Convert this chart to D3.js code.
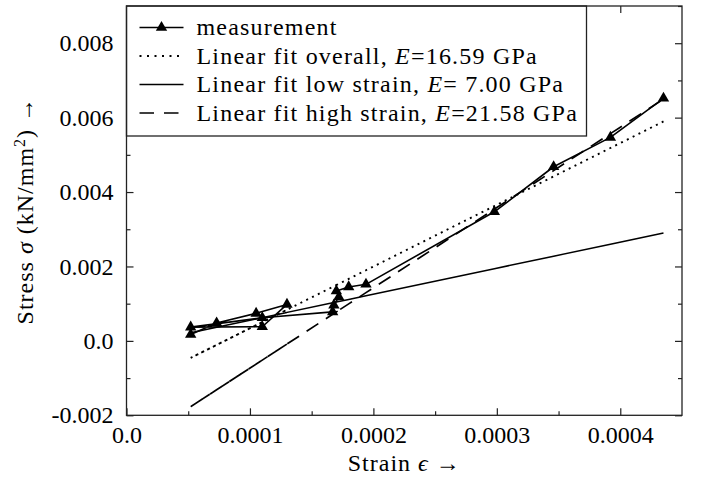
<!DOCTYPE html>
<html>
<head>
    <meta charset="utf-8">
    <title>Stress strain</title>
    <script src="https://d3js.org/d3.v7.min.js"></script>
    <style>
        body { margin: 0; background: #fff; }
        text { font-family: "Liberation Serif", "DejaVu Serif", serif; fill: #000; }
    </style>
</head>
<body>
    <div id="chart"></div>
    <script>
        // measurement, in the order it was recorded
        var strain = [0.000052, 0.000073, 0.000105, 0.00013, 0.00011, 0.000052, 0.00011, 0.000167, 0.000168,
                      0.000172, 0.00017, 0.00018, 0.000194, 0.000298, 0.000346, 0.000392, 0.000435];
        var stress = [0.00017, 0.00048, 0.00074, 0.00098, 0.00038, 0.00037, 0.00062, 0.00078, 0.00096,
                      0.00118, 0.00134, 0.00145, 0.00152, 0.00347, 0.00468, 0.00547, 0.00652];

        // linear fits: overall, low strain, high strain (E in GPa = kN/mm2)
        var fitNames = ["Linear fit overall, ", "Linear fit low strain, ", "Linear fit high strain, "];
        var fitE = [16.59, 7.00, 21.58];
        var fitIntercept = [-0.00132, -0.000145, -0.00289];

        var xTicks = [0, 0.0001, 0.0002, 0.0003, 0.0004];
        var xTickLabels = ["0.0", "0.0001", "0.0002", "0.0003", "0.0004"];
        var xMinor = [0.00005, 0.00015, 0.00025, 0.00035];
        var yTicks = [-0.002, 0, 0.002, 0.004, 0.006, 0.008];
        var yTickLabels = ["-0.002", "0.0", "0.002", "0.004", "0.006", "0.008"];
        var yMinor = [-0.001, 0.001, 0.003, 0.005, 0.007, 0.009];

        var W = 701, H = 478;
        var margin = {top: 6, right: 19, bottom: 62.7, left: 126.5},
            width = W - margin.left - margin.right,
            height = H - margin.top - margin.bottom;

        var svg = d3.select("#chart")
          .append("svg")
            .attr("width", W)
            .attr("height", H)
          .append("g")
            .attr("transform", "translate(" + margin.left + "," + margin.top + ")");

        var x = d3.scaleLinear().domain([0, 0.00045]).range([0, width]);
        var y = d3.scaleLinear().domain([-0.002, 0.009]).range([height, 0]);

        var line = d3.line()
            .x(function(d) { return x(d[0]); })
            .y(function(d) { return y(d[1]); });

        var meas = strain.map(function(s, i) { return [s, stress[i]]; });

        var fitStyles = [
            {dash: "2,4.5", w: 1.9},
            {dash: null, w: 1.5},
            {dash: "14,9", w: 1.7}
        ];

        // fitted values evaluated at the measured strains
        fitE.forEach(function(E, k) {
            var pts = strain.map(function(s) { return [s, E * s + fitIntercept[k]]; });
            svg.append("path")
                .datum(pts)
                .attr("d", line)
                .attr("fill", "none")
                .attr("stroke", "#000")
                .attr("stroke-width", fitStyles[k].w)
                .attr("stroke-dasharray", fitStyles[k].dash);
        });

        svg.append("path")
            .datum(meas)
            .attr("d", line)
            .attr("fill", "none")
            .attr("stroke", "#000")
            .attr("stroke-width", 1.6)
            .attr("stroke-linejoin", "round");

        var tri = d3.symbol().type(d3.symbolTriangle).size(56);
        svg.selectAll(".dot")
            .data(meas)
          .enter().append("path")
            .attr("class", "dot")
            .attr("d", tri)
            .attr("transform", function(d) { return "translate(" + x(d[0]) + "," + y(d[1]) + ")"; })
            .attr("fill", "#000");

        // axes, ticks pointing inwards on all four sides
        function styleAxis(g) {
            g.attr("font-family", null).attr("font-size", null);
            g.select(".domain").remove();
            g.selectAll("line").attr("stroke", "#222").attr("stroke-width", 1.2);
            g.selectAll("text").style("font-size", "24px").attr("fill", "#000");
        }
        var xfmt = function(d) { return xTickLabels[xTicks.indexOf(d)]; };
        var yfmt = function(d) { return yTickLabels[yTicks.indexOf(d)]; };

        svg.append("g").attr("transform", "translate(0," + height + ")")
            .call(d3.axisBottom(x).tickValues(xTicks).tickSize(-7).tickPadding(11).tickFormat(xfmt)).call(styleAxis);
        svg.append("g").attr("transform", "translate(0," + height + ")")
            .call(d3.axisBottom(x).tickValues(xMinor).tickSize(-4).tickFormat("")).call(styleAxis);
        svg.append("g")
            .call(d3.axisTop(x).tickValues(xTicks).tickSize(-7).tickFormat("")).call(styleAxis);
        svg.append("g")
            .call(d3.axisTop(x).tickValues(xMinor).tickSize(-4).tickFormat("")).call(styleAxis);
        svg.append("g")
            .call(d3.axisLeft(y).tickValues(yTicks).tickSize(-7).tickPadding(13).tickFormat(yfmt)).call(styleAxis);
        svg.append("g")
            .call(d3.axisLeft(y).tickValues(yMinor).tickSize(-4).tickFormat("")).call(styleAxis);
        svg.append("g").attr("transform", "translate(" + width + ",0)")
            .call(d3.axisRight(y).tickValues(yTicks).tickSize(-7).tickFormat("")).call(styleAxis);
        svg.append("g").attr("transform", "translate(" + width + ",0)")
            .call(d3.axisRight(y).tickValues(yMinor).tickSize(-4).tickFormat("")).call(styleAxis);

        // legend
        var leg = svg.append("g");
        leg.append("rect")
            .attr("x", 0).attr("y", 0)
            .attr("width", 460).attr("height", 130)
            .attr("fill", "#fff")
            .attr("stroke", "#222")
            .attr("stroke-width", 1.3);

        var rowY = function(i) { return 21.5 + i * 28.5; };
        var legendLabels = ["measurement"].concat(fitNames);
        var sampleStyles = [{dash: null, w: 1.6}, {dash: "2,5.5", w: 1.9}, {dash: null, w: 1.6}, {dash: "14.5,10", w: 1.7}];

        legendLabels.forEach(function(lab, i) {
            leg.append("line")
                .attr("x1", 13).attr("x2", 57)
                .attr("y1", rowY(i)).attr("y2", rowY(i))
                .attr("stroke", "#000")
                .attr("stroke-width", sampleStyles[i].w)
                .attr("stroke-dasharray", sampleStyles[i].dash);
            var t = leg.append("text")
                .attr("x", 70)
                .attr("y", rowY(i) + 7.5)
                .style("font-size", "24px")
                .style("letter-spacing", "1.2px")
                .text(lab);
            if (i > 0) {
                var v = d3.format("5.2f")(fitE[i - 1]);
                t.append("tspan").style("font-style", "italic").text("E");
                t.append("tspan").text("=" + v.replace(/^ /, "\u00a0") + " GPa");
            }
        });
        leg.append("path")
            .attr("d", tri)
            .attr("transform", "translate(35," + rowY(0) + ")")
            .attr("fill", "#000");

        // frame
        svg.append("rect")
            .attr("width", width).attr("height", height)
            .attr("fill", "none")
            .attr("stroke", "#222")
            .attr("stroke-width", 1.3);

        // axis titles
        var xl = svg.append("text")
            .attr("x", width / 2)
            .attr("y", height + 56)
            .style("text-anchor", "middle")
            .style("font-size", "24px")
            .style("letter-spacing", "1px");
        xl.append("tspan").text("Strain ");
        xl.append("tspan").style("font-style", "italic").text("\u03f5");
        xl.append("tspan").text(" \u2192");

        var yl = svg.append("text")
            .attr("transform", "translate(" + (33 - margin.left) + "," + (height / 2) + ")rotate(-90)")
            .style("text-anchor", "middle")
            .style("font-size", "24px")
            .style("letter-spacing", "1px");
        yl.append("tspan").text("Stress ");
        yl.append("tspan").style("font-style", "italic").text("\u03c3");
        yl.append("tspan").text(" (kN/mm");
        yl.append("tspan").attr("dy", -8).style("font-size", "16px").text("2");
        yl.append("tspan").attr("dy", 8).text(") \u2192");
    </script>
</body>
</html>
